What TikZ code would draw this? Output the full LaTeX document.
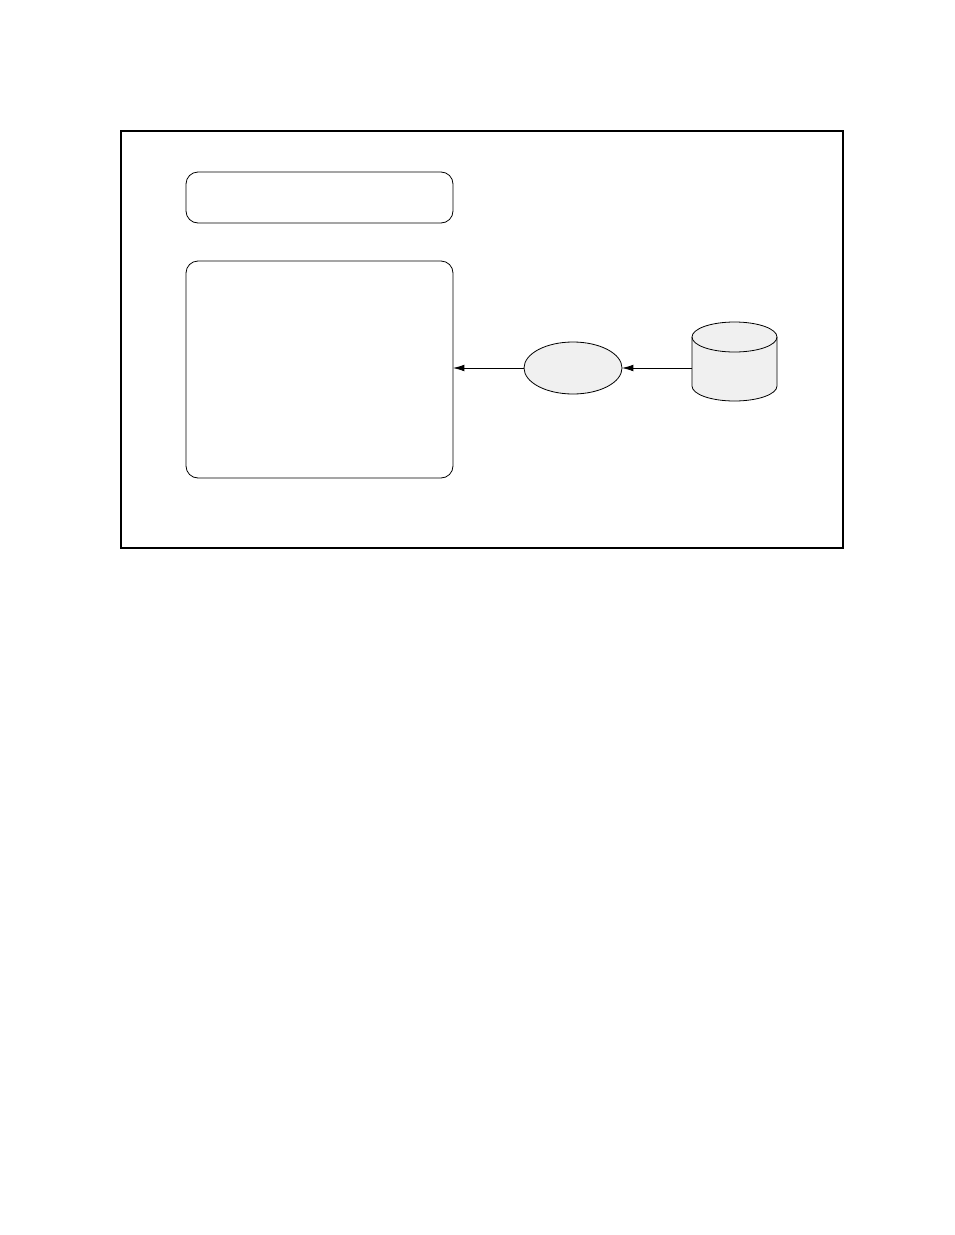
\documentclass[tikz,border=0pt]{standalone}
\usetikzlibrary{shapes.geometric,arrows.meta}
\begin{document}
\begin{tikzpicture}[x=0.75pt,y=-0.75pt,line width=0.6pt,
box/.style={draw,rounded corners=9pt,inner sep=0pt,outer sep=0pt,minimum width=200.25pt},
store/.style={draw,fill=black!6,inner sep=0pt,outer sep=0pt},
flow/.style={-{Latex[length=8.5pt,width=5pt]}},
drum/.pic={
\path[store](-42.5,-24.5)--(-42.5,24.5)arc[start angle=180,end angle=360,x radius=31.875pt,y radius=11.25pt]--(42.5,-24.5)arc[start angle=0,end angle=180,x radius=31.875pt,y radius=11.25pt]--cycle;
\draw(-42.5,-24.5)arc[start angle=180,end angle=360,x radius=31.875pt,y radius=11.25pt];
}]
\useasboundingbox[fill=white](0,0)rectangle(954,1235);
\draw[line width=1.2pt](121,131)rectangle(843,548);
\node[box,minimum height=38.25pt](head)at(319.5,197.5){};
\node[box,minimum height=162.75pt](main)at(319.5,369.5){};
\node[store,ellipse,minimum width=73.5pt,minimum height=39pt](proc)at(573,368){};
\pic at(734.5,361.5){drum};
\coordinate(db)at(692,368);
\draw[flow](db)--(proc.east);
\draw[flow](proc.west)--(proc.west-|main.east);
\end{tikzpicture}
\end{document}
